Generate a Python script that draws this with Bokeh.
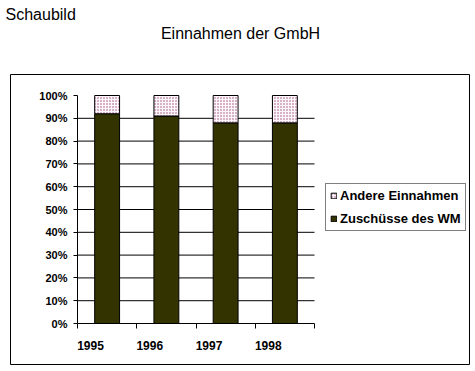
from bokeh.plotting import figure
from bokeh.models import (FixedTicker, LinearAxis, NumeralTickFormatter, Legend, LegendItem,
                          Range1d, ColumnDataSource, BoxAnnotation, Label)
from bokeh.embed import file_html
from bokeh.resources import INLINE

# ---- data ----
years = ["1995", "1996", "1997", "1998"]
zuschuesse = [0.92, 0.91, 0.88, 0.88]      # Zuschüsse des WM
andere = [0.08, 0.09, 0.12, 0.12]          # Andere Einnahmen
y_ticks = [0.0, 0.1, 0.2, 0.3, 0.4, 0.5, 0.6, 0.7, 0.8, 0.9, 1.0]
grid_ticks = [0.1, 0.2, 0.3, 0.4, 0.5, 0.6, 0.7, 0.8, 0.9]
page_label = "Schaubild"
chart_title = "Einnahmen der GmbH"

n = len(years)
xpos = [i + 0.5 for i in range(n)]
total = [z + a for z, a in zip(zuschuesse, andere)]
source = ColumnDataSource(dict(x=xpos, zus=zuschuesse, total=total))

FONT = "Liberation Sans"

# the frame covers the whole canvas; the chart area (0..n, 0..1) sits inside it
p = figure(width=475, height=371, output_backend="svg", toolbar_location=None,
           x_range=Range1d(-1.2996, 6.7173), y_range=Range1d(-0.2105, 1.4167),
           min_border=0)
p.outline_line_color = None
p.background_fill_color = "white"
p.border_fill_color = "white"
p.xgrid.visible = False
p.ygrid.visible = False

# outer box around the chart
p.add_layout(BoxAnnotation(left=-1.1308, right=6.616, bottom=-0.1798, top=1.0921,
                           fill_alpha=0, fill_color=None, line_color="black", line_width=1,
                           line_alpha=1, level="underlay"))

# horizontal grid lines across the chart area
p.segment(x0=0, x1=n, y0=grid_ticks, y1=grid_ticks, line_color="black", line_width=1)

r_zus = p.vbar(x="x", bottom=0, top="zus", width=0.42, source=source,
               fill_color="#333300", line_color="black", line_width=1)
r_and = p.vbar(x="x", bottom="zus", top="total", width=0.42, source=source,
               fill_color="#fdf7fb", line_color="black", line_width=1,
               hatch_pattern="dot", hatch_color="#9a4a78", hatch_scale=3, hatch_weight=1)

# y axis
p.yaxis.fixed_location = 0
p.yaxis.bounds = (0, 1)
p.yaxis.ticker = FixedTicker(ticks=y_ticks)
p.yaxis.formatter = NumeralTickFormatter(format="0%")
p.yaxis.major_tick_out = 4
p.yaxis.major_tick_in = 0
p.yaxis.minor_tick_line_color = None
p.yaxis.axis_line_color = "black"
p.yaxis.major_tick_line_color = "black"
p.yaxis.major_label_text_font = FONT
p.yaxis.major_label_text_font_style = "bold"
p.yaxis.major_label_text_font_size = "11px"
p.yaxis.major_label_text_color = "black"
p.yaxis.major_label_standoff = 6

# x axis: category boundary ticks
p.xaxis.fixed_location = 0
p.xaxis.bounds = (0, n)
p.xaxis.ticker = FixedTicker(ticks=list(range(n + 1)))
p.xaxis.major_label_overrides = {i: "" for i in range(n + 1)}
p.xaxis.major_tick_out = 5
p.xaxis.major_tick_in = 0
p.xaxis.minor_tick_line_color = None
p.xaxis.axis_line_color = "black"
p.xaxis.major_tick_line_color = "black"

# x axis: year labels
label_pos = [i + 0.22 for i in range(n)]
lab_axis = LinearAxis(ticker=FixedTicker(ticks=label_pos), fixed_location=0,
                      major_label_overrides={pos: yr for pos, yr in zip(label_pos, years)})
lab_axis.axis_line_color = None
lab_axis.major_tick_line_color = None
lab_axis.minor_tick_line_color = None
lab_axis.major_tick_out = 0
lab_axis.major_tick_in = 0
lab_axis.major_label_standoff = 17
lab_axis.major_label_text_font = FONT
lab_axis.major_label_text_font_style = "bold"
lab_axis.major_label_text_font_size = "12px"
lab_axis.major_label_text_color = "black"
p.add_layout(lab_axis, "below")

# page label and chart title
p.add_layout(Label(x=-1.215, y=1.3574, text=page_label, text_font=FONT,
                   text_font_size="16px", text_color="black",
                   text_align="left", text_baseline="alphabetic"))
p.add_layout(Label(x=2.751, y=1.2741, text=chart_title, text_font=FONT,
                   text_font_size="16px", text_color="black",
                   text_align="center", text_baseline="alphabetic"))

# legend
legend = Legend(items=[LegendItem(label="Andere Einnahmen", renderers=[r_and]),
                       LegendItem(label="Zuschüsse des WM", renderers=[r_zus])],
                location=(325, 140))
legend.border_line_color = "black"
legend.border_line_width = 1
legend.background_fill_color = "white"
legend.background_fill_alpha = 1
legend.label_text_font = FONT
legend.label_text_font_style = "bold"
legend.label_text_font_size = "13px"
legend.label_text_color = "black"
legend.glyph_width = 7
legend.glyph_height = 7
legend.label_height = 14
legend.label_standoff = 3
legend.padding = 4
legend.spacing = 8
legend.margin = 0
p.add_layout(legend, "center")

open("out.html", "w").write(file_html(p, INLINE))
